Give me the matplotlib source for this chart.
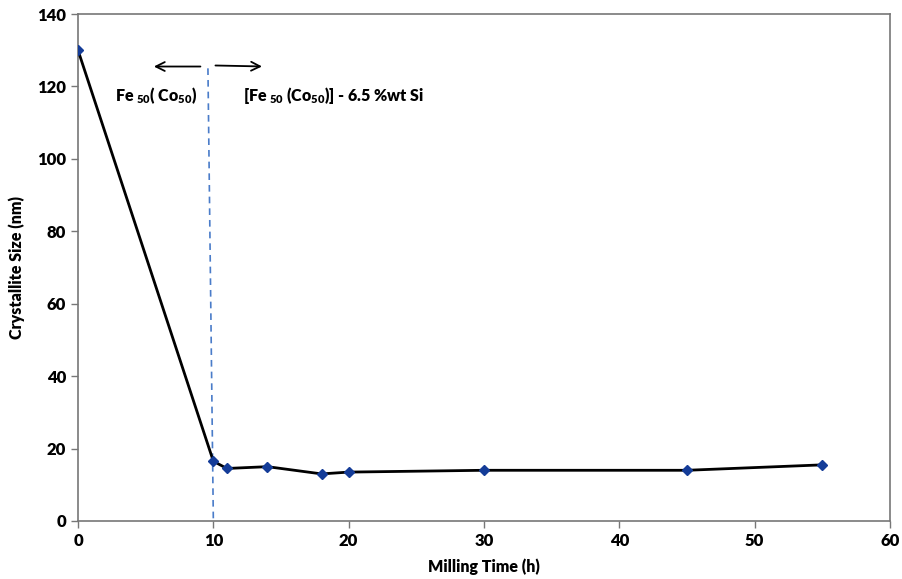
import matplotlib
matplotlib.use("Agg")
import matplotlib.pyplot as plt

milling_time = [0, 10, 11, 14, 18, 20, 30, 45, 55]
crystallite_size = [130, 16.5, 14.5, 15.0, 13.0, 13.5, 14.0, 14.0, 15.5]
x_ticks = [0, 10, 20, 30, 40, 50, 60]
y_ticks = [0, 20, 40, 60, 80, 100, 120, 140]

plt.rcParams['font.family'] = ['Lato', 'DejaVu Sans']
plt.rcParams['mathtext.fontset'] = 'custom'
plt.rcParams['mathtext.rm'] = 'Lato:heavy'
plt.rcParams['mathtext.it'] = 'Lato:heavy'
plt.rcParams['mathtext.bf'] = 'Lato:heavy'

W = 'heavy'

fig = plt.figure(figsize=(9.03, 5.79), dpi=100)
ax = fig.add_axes([0.0864, 0.1002, 0.8992, 0.8756])

ax.plot(milling_time, crystallite_size, color='black', lw=2.0, zorder=3)
ax.plot(milling_time, crystallite_size, ls='none', marker='D', ms=5.5,
        color='#143c98', zorder=4)

# dashed separation line
ax.plot([9.6, 10.0], [125, 0], ls=(0, (4, 3)), color='#4a7cc9', lw=1.2, zorder=2)

# arrows
ax.annotate('', xy=(5.4, 125.5), xytext=(9.25, 125.5),
            arrowprops=dict(arrowstyle='->', color='black', lw=1.3, mutation_scale=16))
ax.annotate('', xy=(13.8, 125.5), xytext=(9.95, 125.8),
            arrowprops=dict(arrowstyle='->', color='black', lw=1.3, mutation_scale=16))

ax.text(2.7, 117.5, r'Fe$_{\ 50}$( Co$_{50}$)', fontsize=11.5, fontweight=W,
        va='center', ha='left')
ax.text(12.2, 117.5, r'[Fe$_{\ 50}$ (Co$_{50}$)] - 6.5 %wt Si', fontsize=11.5,
        fontweight=W, va='center', ha='left')

ax.set_xlim(0, 60)
ax.set_ylim(0, 140)
ax.set_xticks(x_ticks)
ax.set_yticks(y_ticks)
ax.tick_params(direction='out', length=5, color='#777777', labelsize=12, width=1)
for lab in ax.get_xticklabels() + ax.get_yticklabels():
    lab.set_fontweight(W)
for sp in ax.spines.values():
    sp.set_color('#777777')
    sp.set_linewidth(1.2)

ax.set_xlabel('Milling Time (h)', fontsize=11.5, fontweight=W, labelpad=7)
ax.set_ylabel('Crystallite Size (nm)', fontsize=11.5, fontweight=W, labelpad=9)

fig.savefig('out.png', dpi=100)
